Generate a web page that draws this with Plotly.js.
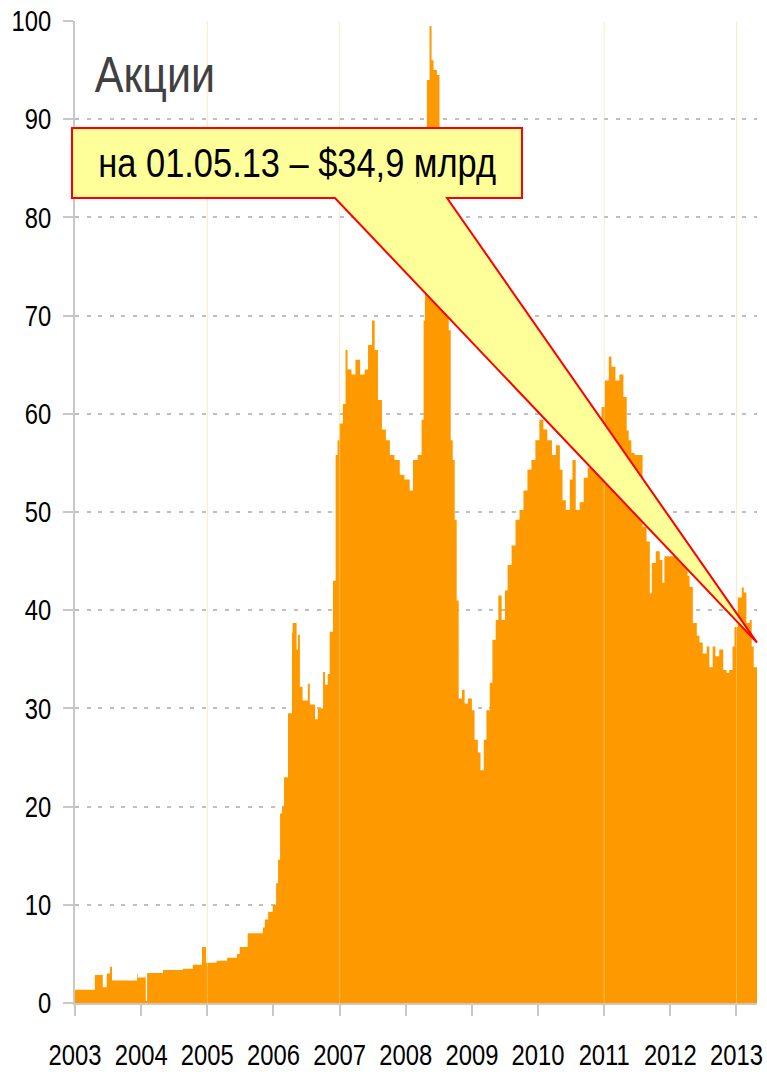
<!DOCTYPE html>
<html>
<head>
<meta charset="utf-8">
<script src="https://cdn.plot.ly/plotly-3.0.1.min.js"></script>
<style>html,body{margin:0;padding:0;background:#fff;}#chart{width:767px;height:1072px;}</style>
</head>
<body>
<div id="chart"></div>
<script>
// Decimal-year dates and values (bn USD)
var dates = [
  2003.00, 2003.30, 2003.42, 2003.48, 2003.53, 2003.56, 2003.94, 2003.95, 2004.07, 2004.09,
  2004.33, 2004.63, 2004.78, 2004.92, 2004.98,
  2005.14, 2005.30, 2005.45, 2005.49, 2005.61, 2005.84, 2005.87, 2005.92, 2005.99,
  2006.04, 2006.07, 2006.10, 2006.13, 2006.16, 2006.22, 2006.28, 2006.29, 2006.35, 2006.37,
  2006.40, 2006.44, 2006.52, 2006.55, 2006.63, 2006.67, 2006.75, 2006.78, 2006.82, 2006.85,
  2006.90, 2006.94, 2006.97,
  2007.00, 2007.05, 2007.09, 2007.12, 2007.18, 2007.24, 2007.31, 2007.38, 2007.43, 2007.49,
  2007.53, 2007.58, 2007.64, 2007.70, 2007.76, 2007.83, 2007.91, 2007.98,
  2008.06, 2008.11, 2008.18, 2008.24, 2008.27, 2008.29, 2008.32, 2008.36, 2008.39, 2008.42,
  2008.47, 2008.51, 2008.56, 2008.60, 2008.65, 2008.68, 2008.71, 2008.74, 2008.77, 2008.80,
  2008.85, 2008.89, 2008.94,
  2009.00, 2009.04, 2009.09, 2009.13, 2009.18, 2009.22, 2009.27, 2009.31, 2009.36, 2009.40,
  2009.45, 2009.50, 2009.54, 2009.60, 2009.66, 2009.72, 2009.78, 2009.84, 2009.90, 2009.96,
  2010.02, 2010.08, 2010.14, 2010.21, 2010.27, 2010.33, 2010.37, 2010.42, 2010.48, 2010.52,
  2010.57, 2010.63, 2010.69, 2010.75, 2010.81, 2010.87, 2010.93, 2010.96,
  2011.01, 2011.07, 2011.11, 2011.17, 2011.23, 2011.29, 2011.34, 2011.37, 2011.41, 2011.46,
  2011.53, 2011.58, 2011.64, 2011.69, 2011.72, 2011.78, 2011.84, 2011.88, 2011.91, 2011.99,
  2012.06, 2012.14, 2012.20, 2012.26, 2012.29, 2012.34, 2012.40, 2012.44, 2012.49, 2012.55,
  2012.59, 2012.64, 2012.68, 2012.74, 2012.80, 2012.85, 2012.89, 2012.94, 2012.97,
  2013.02, 2013.08, 2013.11, 2013.15, 2013.20, 2013.23, 2013.26, 2013.31
];
var values = [
  1.35, 2.85, 1.6, 3.0, 3.7, 2.3, 3.0, 2.6, 0.2, 3.05,
  3.35, 3.5, 3.9, 5.7, 4.1,
  4.3, 4.6, 5.0, 5.7, 7.1, 7.7, 8.5, 9.3, 10.0,
  12.2, 14.6, 19.3, 20.0, 23.0, 29.5, 37.7, 38.7, 36.0, 37.5,
  32.2, 30.8, 32.5, 30.4, 28.9, 30.0, 33.7, 32.4, 33.5, 37.8,
  43.0, 55.8, 57.3,
  59.0, 61.0, 66.5, 64.5, 64.0, 65.5, 64.0, 64.5, 67.0, 69.5,
  66.5, 61.4, 58.4, 57.3, 55.8, 55.3, 53.8, 53.3,
  52.2, 55.3, 55.8, 59.4, 69.5, 86.9, 94.0, 99.5, 96.0, 95.0,
  94.5, 87.9, 73.6, 70.6, 68.5, 57.3, 55.3, 49.2, 41.0, 31.0,
  31.9, 30.5, 31.0,
  29.8, 26.8, 25.5, 23.7, 26.8, 29.8, 32.6, 37.0, 39.0, 41.5,
  39.0, 42.0, 44.6, 46.6, 49.2, 50.2, 52.2, 54.3, 55.3, 57.3,
  59.4, 58.4, 57.3, 55.8, 56.8, 54.3, 51.2, 50.2, 53.3, 55.3,
  50.2, 51.0, 53.5, 54.5, 55.3, 57.0, 59.0, 60.7,
  63.4, 65.8, 64.8, 63.4, 64.0, 61.7, 58.3, 57.3, 56.0, 55.8,
  55.8, 48.5, 47.0, 41.7, 44.8, 46.0, 45.1, 42.8, 45.5, 45.5,
  48.2, 45.5, 45.5, 43.5, 42.4, 38.7, 37.4, 36.7, 35.6, 36.3,
  34.2, 36.3, 35.3, 36.0, 33.9, 33.6, 33.9, 36.3, 38.3,
  41.3, 42.3, 41.8, 38.7, 39.0, 36.3, 34.2, 35.1
];
var years = [2003, 2004, 2005, 2006, 2007, 2008, 2009, 2010, 2011, 2012, 2013];
var yearLabels = ['2003','2004','2005','2006','2007','2008','2009','2010','2011','2012','2013'];
var seamYears = [2005, 2007, 2011, 2013];
var chartTitle = 'Акции';
var calloutText = 'на 01.05.13 – $34,9 млрд';
var calloutValue = 36.7;

var baseFont = '"Liberation Sans", Arial, sans-serif';
var xMin = 2003, xMax = dates[dates.length - 1];

var trace = {
  x: dates, y: values, type: 'scatter', mode: 'lines',
  line: {shape: 'hv', width: 0, color: '#FF9900'},
  fill: 'tozeroy', fillcolor: '#FF9900', hoverinfo: 'skip'
};

// callout in paper coordinates; tip tied to the last data point
var tipX = (dates[dates.length - 1] - xMin) / (xMax - xMin);
var tipY = calloutValue / 100;
var bx0 = -0.0044, bx1 = 0.6554, by0 = 0.8198, by1 = 0.891, px0 = 0.3812, px1 = 0.5455;
var calloutPath = 'M ' + bx0 + ',' + by1 + ' L ' + bx1 + ',' + by1 + ' L ' + bx1 + ',' + by0 +
  ' L ' + px1 + ',' + by0 + ' L ' + tipX + ',' + tipY + ' L ' + px0 + ',' + by0 +
  ' L ' + bx0 + ',' + by0 + ' Z';

var shapes = seamYears.map(function (yr) {
  return {type: 'line', xref: 'x', yref: 'y', x0: yr, x1: yr, y0: 0, y1: 100, layer: 'above',
    line: {color: 'rgba(255,215,150,0.55)', width: 1}};
});
shapes.push({type: 'path', xref: 'paper', yref: 'paper', path: calloutPath, layer: 'above',
  fillcolor: '#FFFF99', line: {color: '#FF0000', width: 2}});

var layout = {
  width: 767, height: 1072,
  margin: {l: 75, r: 10, t: 21, b: 69, pad: 0},
  paper_bgcolor: '#ffffff', plot_bgcolor: '#ffffff',
  showlegend: false,
  xaxis: {
    type: 'linear', range: [xMin, xMax], tickmode: 'array', tickvals: years, ticktext: yearLabels,
    tickangle: 0, automargin: false, ticklabeloverflow: 'allow',
    showgrid: false, zeroline: false, showline: true, linecolor: '#C8C8C8', linewidth: 2,
    ticks: 'outside', ticklen: 11, tickwidth: 2, tickcolor: '#C8C8C8',
    tickfont: {family: baseFont, size: 29, color: '#000000'}, ticklabelstandoff: 14
  },
  yaxis: {
    range: [0, 100], dtick: 10, tick0: 0, automargin: false, ticklabeloverflow: 'allow',
    showgrid: true, gridcolor: '#BFBFBF', gridwidth: 2, griddash: '4px,7.5px',
    zeroline: false, showline: true, linecolor: '#C8C8C8', linewidth: 2,
    ticks: 'outside', ticklen: 10, tickwidth: 2, tickcolor: '#C8C8C8',
    tickfont: {family: baseFont, size: 29, color: '#000000'}, ticklabelstandoff: 6
  },
  shapes: shapes,
  annotations: [
    {xref: 'paper', yref: 'paper', x: 0.117, y: 0.945, xanchor: 'center', yanchor: 'middle',
      text: chartTitle, showarrow: false, font: {family: baseFont, size: 50, color: '#404040'}},
    {xref: 'paper', yref: 'paper', x: 0.3255, y: 0.8554, xanchor: 'center', yanchor: 'middle',
      text: calloutText, showarrow: false, font: {family: baseFont, size: 40, color: '#000000'}}
  ]
};

// Narrow-font look: compress glyphs horizontally (Arial Narrow ≈ 82% width of Arial)
function squeeze(selector, factor) {
  document.querySelectorAll(selector).forEach(function (t) {
    var len = t.getComputedTextLength();
    if (len > 0) {
      t.setAttribute('textLength', (len * factor).toFixed(2));
      t.setAttribute('lengthAdjust', 'spacingAndGlyphs');
    }
  });
}

Plotly.newPlot('chart', [trace], layout, {staticPlot: true, displayModeBar: false})
  .then(function () {
    squeeze('.xtick text, .ytick text', 0.82);
    squeeze('.annotation-text', 0.86);
  });
</script>
</body>
</html>
